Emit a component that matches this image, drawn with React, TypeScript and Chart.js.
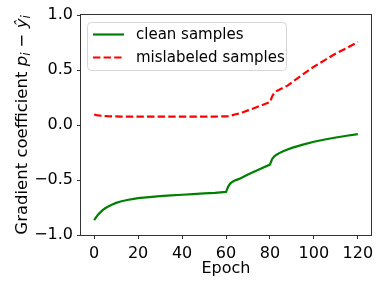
import { useEffect, useRef } from "react";
import { Chart, registerables } from "chart.js";
Chart.register(...registerables);

const epochs = [0,1,2,3,4,5,6,8,10,12,15,18,20,25,30,35,40,45,50,55,60,61,62,63,64,66,68,70,75,80,81,82,83,84,86,88,90,95,100,105,110,115,120];
const cleanValues = [-0.865,-0.835,-0.81,-0.79,-0.772,-0.757,-0.745,-0.725,-0.708,-0.695,-0.682,-0.671,-0.665,-0.655,-0.647,-0.64,-0.634,-0.628,-0.622,-0.617,-0.608,-0.56,-0.53,-0.515,-0.505,-0.49,-0.47,-0.45,-0.405,-0.36,-0.31,-0.285,-0.27,-0.258,-0.238,-0.222,-0.208,-0.178,-0.152,-0.132,-0.114,-0.098,-0.083];
const mislabeledValues = [0.095,0.09,0.087,0.084,0.082,0.081,0.08,0.079,0.078,0.077,0.077,0.077,0.077,0.077,0.077,0.077,0.077,0.077,0.077,0.077,0.078,0.081,0.085,0.09,0.095,0.105,0.118,0.133,0.17,0.208,0.26,0.293,0.308,0.318,0.338,0.358,0.388,0.46,0.53,0.59,0.65,0.7,0.755];
const seriesLabels = ["clean samples", "mislabeled samples"];
const xTicks = [0, 20, 40, 60, 80, 100, 120];
const yTicks = [-1.0, -0.5, 0.0, 0.5, 1.0];
const xTitle = "Epoch";

const FONT = "'DejaVu Sans', sans-serif";
const GREEN = "#008000";
const RED = "#ff0000";
const DASH = [7.4, 3.2];

function fmtY(v: number) {
  const s = Math.abs(v).toFixed(1);
  return v < 0 ? "\u2212" + s : s;
}

const decorPlugin = {
  id: "decor",
  afterDraw(chart: any) {
    const ctx = chart.ctx as CanvasRenderingContext2D;
    const ca = chart.chartArea;
    ctx.save();
    // frame
    ctx.strokeStyle = "#333";
    ctx.lineWidth = 1;
    ctx.strokeRect(Math.round(ca.left) - 0.5, Math.round(ca.top) - 0.5, Math.round(ca.right - ca.left) + 1, Math.round(ca.bottom - ca.top) + 1);

    // legend
    const lx = ca.left + 6.5, ly = ca.top + 7.5, lw = 199, lh = 48, r = 4;
    ctx.beginPath();
    ctx.moveTo(lx + r, ly);
    ctx.lineTo(lx + lw - r, ly);
    ctx.arcTo(lx + lw, ly, lx + lw, ly + r, r);
    ctx.lineTo(lx + lw, ly + lh - r);
    ctx.arcTo(lx + lw, ly + lh, lx + lw - r, ly + lh, r);
    ctx.lineTo(lx + r, ly + lh);
    ctx.arcTo(lx, ly + lh, lx, ly + lh - r, r);
    ctx.lineTo(lx, ly + r);
    ctx.arcTo(lx, ly, lx + r, ly, r);
    ctx.closePath();
    ctx.fillStyle = "rgba(255,255,255,0.8)";
    ctx.fill();
    ctx.strokeStyle = "#d6d6d6";
    ctx.lineWidth = 1;
    ctx.stroke();

    const rows = [
      { label: seriesLabels[0], color: GREEN, dash: [] as number[], y: ly + 12 },
      { label: seriesLabels[1], color: RED, dash: DASH, y: ly + 35 },
    ];
    ctx.font = `15px ${FONT}`;
    ctx.textBaseline = "middle";
    ctx.textAlign = "left";
    for (const row of rows) {
      ctx.beginPath();
      ctx.setLineDash(row.dash);
      ctx.strokeStyle = row.color;
      ctx.lineWidth = 2.2;
      ctx.moveTo(lx + 5.5, row.y);
      ctx.lineTo(lx + 36.5, row.y);
      ctx.stroke();
      ctx.setLineDash([]);
      ctx.fillStyle = "#000";
      ctx.fillText(row.label, lx + 48.5, row.y + 1);
    }

    // x title
    ctx.font = `16px ${FONT}`;
    ctx.textAlign = "center";
    ctx.textBaseline = "middle";
    ctx.fillStyle = "#000";
    ctx.fillText(xTitle, (ca.left + ca.right) / 2, 268.5);

    // y title with math parts
    const size = 16.5;
    const sub = size * 0.7;
    const parts = [
      { t: "Gradient coefficient ", f: `${size}px ${FONT}`, dy: 0 },
      { t: "p", f: `italic ${size}px ${FONT}`, dy: 0 },
      { t: "i", f: `italic ${sub}px ${FONT}`, dy: 3.5 },
      { t: " \u2212 ", f: `${size}px ${FONT}`, dy: 0 },
      { t: "\u0177", f: `italic ${size}px ${FONT}`, dy: 0 },
      { t: "i", f: `italic ${sub}px ${FONT}`, dy: 3.5 },
    ];
    let total = 0;
    const widths: number[] = [];
    for (const p of parts) {
      ctx.font = p.f;
      const w = ctx.measureText(p.t).width;
      widths.push(w);
      total += w;
    }
    ctx.translate(22, (ca.top + ca.bottom) / 2);
    ctx.rotate(-Math.PI / 2);
    ctx.textAlign = "left";
    ctx.textBaseline = "middle";
    let x = -total / 2;
    parts.forEach((p, i) => {
      ctx.font = p.f;
      ctx.fillText(p.t, x, p.dy + 1);
      x += widths[i];
    });
    ctx.restore();
  },
};

export default function App() {
  const ref = useRef<HTMLCanvasElement | null>(null);
  useEffect(() => {
    if (!ref.current) return;
    const chart = new Chart(ref.current, {
      type: "line",
      data: {
        datasets: [
          {
            label: seriesLabels[0],
            data: epochs.map((e, i) => ({ x: e, y: cleanValues[i] })),
            borderColor: GREEN,
            borderWidth: 2.2,
            pointRadius: 0,
            tension: 0,
            fill: false,
          },
          {
            label: seriesLabels[1],
            data: epochs.map((e, i) => ({ x: e, y: mislabeledValues[i] })),
            borderColor: RED,
            borderWidth: 2.2,
            borderDash: DASH,
            pointRadius: 0,
            tension: 0,
            fill: false,
          },
        ],
      },
      options: {
        responsive: false,
        animation: false,
        devicePixelRatio: 1,
        layout: { padding: { left: 0, right: 11, top: 15, bottom: 0 } },
        plugins: { legend: { display: false }, tooltip: { enabled: false } },
        scales: {
          x: {
            type: "linear",
            min: -6,
            max: 126,
            afterBuildTicks: (s: any) => { s.ticks = xTicks.map((v) => ({ value: v })); },
            afterFit: (s: any) => { s.height = 52; },
            grid: { drawOnChartArea: false, drawTicks: true, tickLength: 4, color: "#333", tickWidth: 1 },
            border: { display: false },
            ticks: { color: "#000", font: { family: FONT, size: 16 }, padding: 5, maxRotation: 0, autoSkip: false, callback: (v: any) => String(v) },
          },
          y: {
            type: "linear",
            min: -1,
            max: 1,
            afterBuildTicks: (s: any) => { s.ticks = yTicks.map((v) => ({ value: v })); },
            afterFit: (s: any) => { s.width = 81; },
            grid: { drawOnChartArea: false, drawTicks: true, tickLength: 4, color: "#333", tickWidth: 1 },
            border: { display: false },
            ticks: { color: "#000", font: { family: FONT, size: 16 }, padding: 4, autoSkip: false, callback: (v: any) => fmtY(Number(v)) },
          },
        },
      },
      plugins: [decorPlugin],
    });
    return () => chart.destroy();
  }, []);
  return (
    <div style={{ position: "absolute", left: 0, top: 0, width: 382, height: 287, background: "#fff" }}>
      <canvas ref={ref} width={382} height={287} style={{ width: 382, height: 287 }} />
    </div>
  );
}
